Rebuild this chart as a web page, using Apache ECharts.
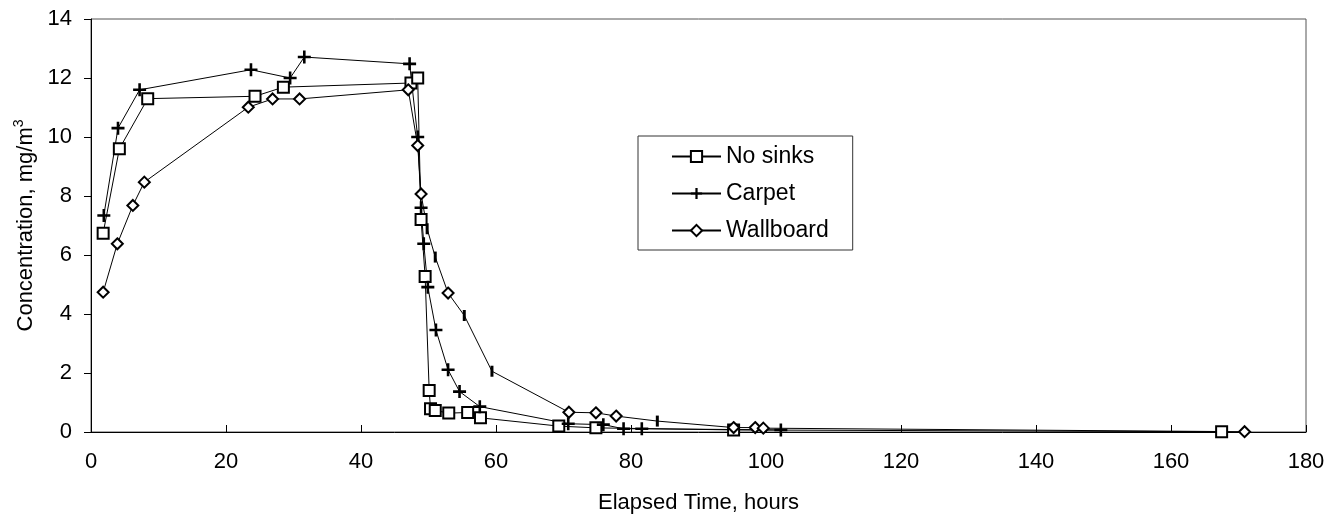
<!DOCTYPE html>
<html>
<head>
<meta charset="utf-8">
<title>Concentration vs Elapsed Time</title>
<script src="https://cdn.jsdelivr.net/npm/echarts@6/dist/echarts.min.js"></script>
<style>
  html, body { margin: 0; padding: 0; background: #fff; }
  #chart { width: 1341px; height: 523px; }
</style>
</head>
<body>
<div id="chart"></div>
<script>
// Measured concentrations (mg/m3) against elapsed time (hours)
const noSinksX = [1.8, 4.2, 8.4, 24.3, 28.5, 47.4, 48.4, 48.9, 49.5, 50.1, 50.3, 51.0, 53.0, 55.8, 57.7, 69.3, 74.8, 95.2, 167.5];
const noSinksY = [6.74, 9.6, 11.3, 11.38, 11.69, 11.83, 12.0, 7.2, 5.27, 1.41, 0.79, 0.73, 0.64, 0.66, 0.48, 0.2, 0.14, 0.07, 0.01];

const carpetX = [1.9, 4.0, 7.2, 23.7, 29.5, 31.6, 47.2, 48.4, 48.9, 49.3, 49.9, 51.1, 52.9, 54.6, 57.6, 70.7, 75.9, 78.9, 81.6, 102.2];
const carpetY = [7.34, 10.3, 11.6, 12.28, 12.0, 12.71, 12.48, 10.0, 7.6, 6.38, 4.91, 3.46, 2.11, 1.37, 0.86, 0.28, 0.25, 0.11, 0.11, 0.07];

const wallboardX = [1.8, 3.9, 6.2, 7.9, 23.3, 26.9, 30.9, 47.0, 48.4, 48.9, 49.8, 51.0, 52.9, 55.3, 59.4, 70.8, 74.8, 77.8, 83.9, 95.2, 98.4, 99.6, 170.9];
const wallboardY = [4.74, 6.38, 7.68, 8.47, 11.01, 11.29, 11.29, 11.6, 9.71, 8.07, 6.89, 5.93, 4.71, 3.95, 2.06, 0.67, 0.65, 0.54, 0.37, 0.15, 0.15, 0.13, 0.01];

const xTicks = { min: 0, max: 180, step: 20 };
const yTicks = { min: 0, max: 14, step: 2 };

const seriesNames = ['No sinks', 'Carpet', 'Wallboard'];

// Wallboard readings drawn with a narrow bar marker instead of a diamond
const wallboardBarPoints = [10, 11, 13, 14, 18];

const FONT = '"Liberation Sans", Arial, Helvetica, sans-serif';
const CROSS = 'path://M4,0H6V4H10V6H6V10H4V6H0V4H4Z';

function pairs(xs, ys) {
  return xs.map((x, i) => [x, ys[i]]);
}

const wallboardData = pairs(wallboardX, wallboardY).map((p, i) =>
  wallboardBarPoints.includes(i)
    ? { value: p, symbol: 'rect', symbolSize: [3, 11], itemStyle: { color: '#000', borderWidth: 0 } }
    : p
);

const baseLine = {
  type: 'line',
  lineStyle: { color: '#000', width: 1 },
  showSymbol: true,
  z: 2
};

const chart = echarts.init(document.getElementById('chart'), null, { renderer: 'canvas' });

chart.setOption({
  animation: false,
  backgroundColor: '#fff',
  textStyle: { fontFamily: FONT, color: '#000' },
  grid: {
    left: 91, right: 35, top: 19, bottom: 91,
    show: true, borderColor: '#555', borderWidth: 1, backgroundColor: 'transparent'
  },
  legend: {
    orient: 'vertical',
    left: 638, top: 136,
    padding: [9, 24, 8, 33],
    itemWidth: 49, itemHeight: 14, itemGap: 14,
    borderColor: '#333', borderWidth: 1,
    backgroundColor: '#fff',
    textStyle: { fontFamily: FONT, fontSize: 23, color: '#000', lineHeight: 22 },
    data: seriesNames
  },
  xAxis: {
    type: 'value',
    min: xTicks.min, max: xTicks.max, interval: xTicks.step,
    name: 'Elapsed Time, hours',
    nameLocation: 'middle', nameGap: 60,
    nameTextStyle: { fontFamily: FONT, fontSize: 22, color: '#000' },
    axisLine: { show: true, lineStyle: { color: '#000', width: 1 } },
    axisTick: { show: true, inside: true, length: 7, lineStyle: { color: '#000' } },
    axisLabel: { fontFamily: FONT, fontSize: 22, color: '#000', margin: 19 },
    splitLine: { show: false }
  },
  yAxis: {
    type: 'value',
    min: yTicks.min, max: yTicks.max, interval: yTicks.step,
    name: '{a|Concentration, mg/m}{s|3}',
    nameLocation: 'middle', nameGap: 52, nameRotate: 90,
    nameTextStyle: {
      fontFamily: FONT, fontSize: 22, color: '#000',
      rich: {
        a: { fontFamily: FONT, fontSize: 22, color: '#000', lineHeight: 26 },
        s: { fontFamily: FONT, fontSize: 14, color: '#000', verticalAlign: 'top', lineHeight: 26 }
      }
    },
    axisLine: { show: true, lineStyle: { color: '#000', width: 1 } },
    axisTick: { show: true, inside: false, length: 7, lineStyle: { color: '#000' } },
    axisLabel: { fontFamily: FONT, fontSize: 22, color: '#000', margin: 19 },
    splitLine: { show: false }
  },
  series: [
    Object.assign({}, baseLine, {
      name: seriesNames[0],
      symbol: 'rect', symbolSize: 11,
      itemStyle: { color: '#fff', borderColor: '#000', borderWidth: 2 },
      data: pairs(noSinksX, noSinksY)
    }),
    Object.assign({}, baseLine, {
      name: seriesNames[1],
      symbol: CROSS, symbolSize: 13, symbolKeepAspect: true,
      itemStyle: { color: '#000', borderWidth: 0 },
      data: pairs(carpetX, carpetY)
    }),
    Object.assign({}, baseLine, {
      name: seriesNames[2],
      symbol: 'diamond', symbolSize: [11, 11],
      itemStyle: { color: '#fff', borderColor: '#000', borderWidth: 2 },
      data: wallboardData
    })
  ]
});
</script>
</body>
</html>
